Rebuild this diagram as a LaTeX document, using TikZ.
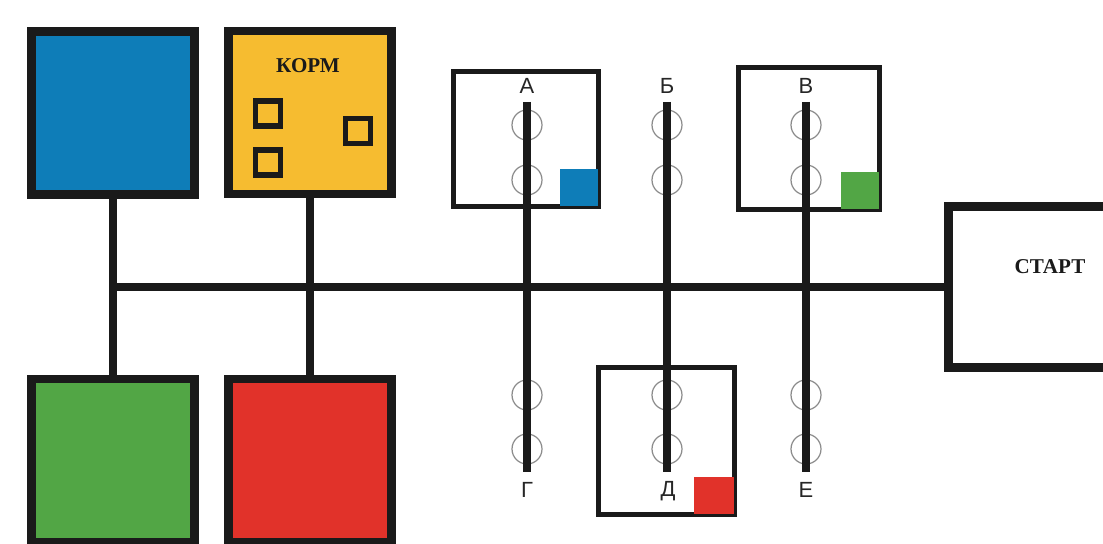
\documentclass[tikz,border=0pt]{standalone}
\usepackage{fontspec}
\setmainfont{Liberation Serif}
\newfontfamily\lettersf{Liberation Sans}
\definecolor{roomblue}{HTML}{0E7DB8}
\definecolor{roomyellow}{HTML}{F6BC30}
\definecolor{roomgreen}{HTML}{52A645}
\definecolor{roomred}{HTML}{E1322A}
\definecolor{inkblack}{HTML}{1A1A1A}

\begin{document}
\begin{tikzpicture}[x=0.02cm, y=-0.02cm,
    room/.style={draw=inkblack, line width=5.1pt, minimum size=3.26cm, inner sep=0pt},
    cell/.style={draw=inkblack, fill=white, line width=2.8pt, inner sep=0pt},
    corner/.style={inner sep=0pt, minimum width=0.76cm, minimum height=0.74cm, anchor=south east},
    crate/.style={draw=inkblack, line width=3.2pt, minimum size=0.5cm, inner sep=0pt},
    ring/.style={circle, draw=gray!90, line width=0.7pt, minimum size=0.6cm, inner sep=0pt},
    rail/.style={draw=inkblack, line width=5pt},
    tag/.style={font=\lettersf\fontsize{12.5}{14}\selectfont, text=black!85, inner sep=1pt},
    title/.style={font=\bfseries\fontsize{12}{14}\selectfont, text=inkblack, inner sep=1pt}]
        \useasboundingbox (0,0) rectangle (1103,544);

        \node[room, fill=roomblue] (blue) at (113, 113) {};
        \node[room, fill=roomyellow] (yellow) at (310, 112.5) {};
        \node[room, fill=roomgreen] (green) at (113, 460.5) {};
        \node[room, fill=roomred] (red) at (310, 460.5) {};
        \node[room, fill=white, minimum width=4.06cm, minimum height=3.22cm] (start) at (1050, 287) {};
        \node[title] (startlabel) at (1050, 267) {СТАРТ};

        \node[title] (korm) at (308, 66) {КОРМ};
        \node[crate] (crate1) at (268, 113.5) {};
        \node[crate] (crate2) at (358, 131) {};
        \node[crate] (crate3) at (268, 162.5) {};

        \coordinate (hub) at (113, 287);
        \draw[rail, line width=5.1pt] (blue.south) -- (green.north);
        \draw[rail, line width=5.1pt] (yellow.south) -- (red.north);
        \draw[rail, line width=5.1pt] (hub) -- (start.west);

        \node[cell, minimum width=2.9cm, minimum height=2.7cm] (cellA) at (526, 139) {};
        \node[cell, minimum width=2.82cm, minimum height=2.84cm] (cellV) at (809, 138.5) {};
        \node[cell, minimum width=2.72cm, minimum height=2.94cm] (cellD) at (666.5, 441) {};
        \node[corner, fill=roomblue] (cornerA) at ([shift={(-1.4pt,1.4pt)}]cellA.south east) {};
        \node[corner, fill=roomgreen] (cornerV) at ([shift={(-1.4pt,1.4pt)}]cellV.south east) {};
        \node[corner, fill=roomred, minimum width=0.8cm] (cornerD) at ([shift={(-1.4pt,1.4pt)}]cellD.south east) {};

        \foreach \n/\x in {a/527, b/667, v/806} {
            \node[ring] (ring\n1) at (\x, 125) {};
            \node[ring] (ring\n2) at (\x, 180) {};
        }
        \foreach \n/\x in {g/527, d/667, e/806} {
            \node[ring] (ring\n1) at (\x, 395) {};
            \node[ring] (ring\n2) at (\x, 449) {};
        }

        \foreach \n/\x in {1/527, 2/667, 3/806} {
            \coordinate (top\n) at (\x, 102);
            \coordinate (bot\n) at (\x, 472);
            \draw[rail] (top\n) -- (bot\n);
        }

        \node[tag] (tagA) at (527, 86) {А};
        \node[tag] (tagB) at (667, 86) {Б};
        \node[tag] (tagV) at (806, 86) {В};
        \node[tag] (tagG) at (527, 490) {Г};
        \node[tag] (tagD) at (668, 491) {Д};
        \node[tag] (tagE) at (806, 490) {Е};
\end{tikzpicture}
\end{document}
